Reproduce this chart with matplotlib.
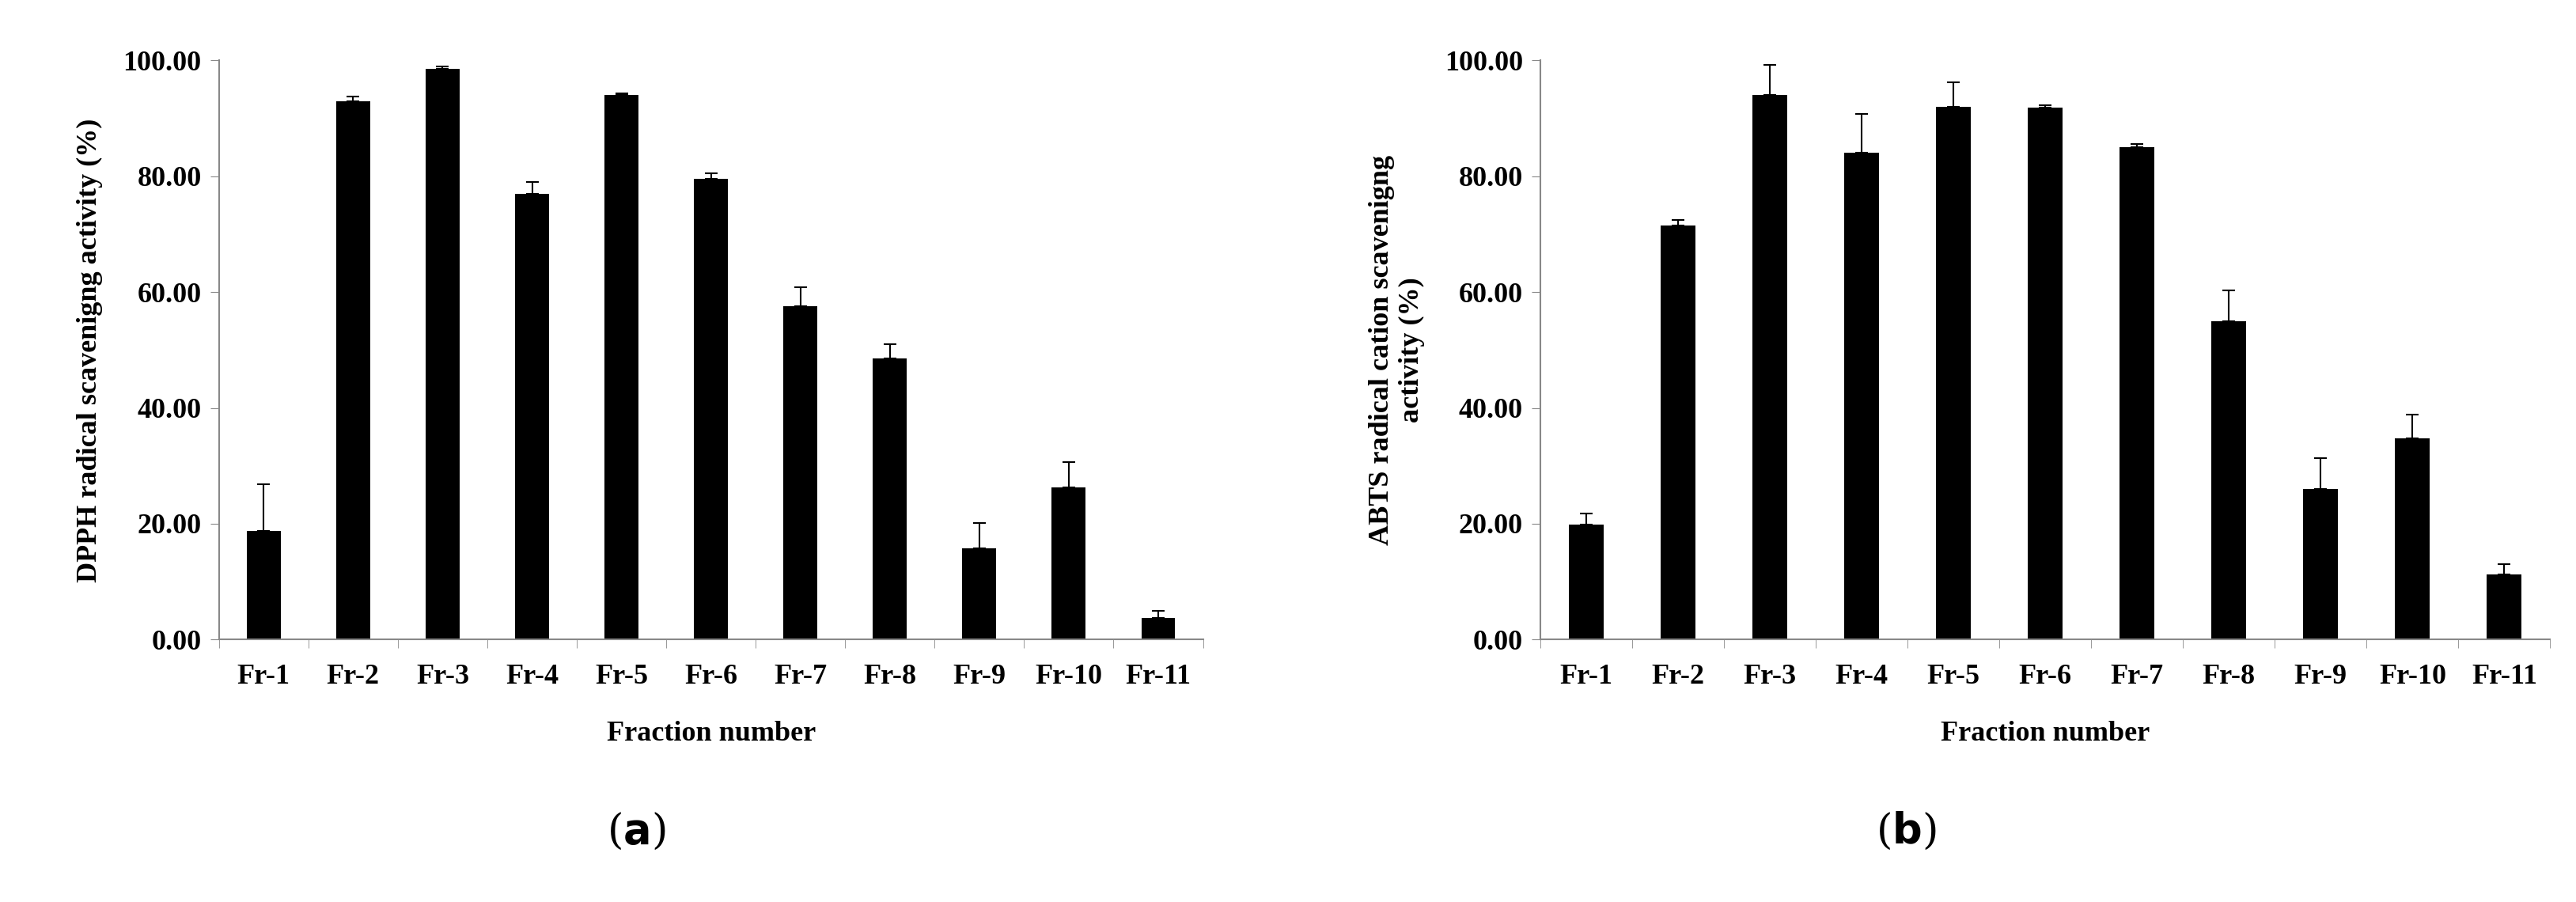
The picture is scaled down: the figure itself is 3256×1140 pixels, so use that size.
import matplotlib
matplotlib.use("Agg")
import matplotlib.pyplot as plt
import numpy as np

categories = ["Fr-1","Fr-2","Fr-3","Fr-4","Fr-5","Fr-6","Fr-7","Fr-8","Fr-9","Fr-10","Fr-11"]
dpph = [18.8, 93.0, 98.5, 77.0, 94.0, 79.5, 57.5, 48.5, 15.8, 26.3, 3.7]
dpph_err = [8.0, 0.8, 0.4, 2.0, 0.3, 1.0, 3.3, 2.5, 4.3, 4.3, 1.3]
abts = [19.8, 71.5, 94.0, 84.0, 92.0, 91.8, 85.0, 55.0, 26.0, 34.7, 11.2]
abts_err = [2.0, 1.0, 5.2, 6.8, 4.2, 0.4, 0.6, 5.3, 5.3, 4.2, 1.8]
yticks = [0, 20, 40, 60, 80, 100]

plt.rcParams['font.family'] = ['Liberation Serif', 'DejaVu Serif']
fig = plt.figure(figsize=(32.56, 11.4), dpi=100)

def panel(rect, vals, errs, ylabel, tag, tagx):
    ax = fig.add_axes(rect)
    x = np.arange(len(categories))
    ax.bar(x, vals, width=0.38, color='black', zorder=2)
    ax.errorbar(x, vals, yerr=[np.zeros(len(errs)), errs], fmt='none', ecolor='black',
                elinewidth=1.5, capsize=6, capthick=1.5, zorder=1)
    ax.set_xlim(-0.5, len(categories) - 0.5)
    ax.set_ylim(0, 100)
    ax.set_yticks(yticks)
    ax.set_yticklabels([f"{v:.2f}" for v in yticks], fontsize=26, fontweight='bold')
    ax.set_xticks(x)
    ax.set_xticklabels(categories, fontsize=26, fontweight='bold')
    ax.set_xticks(np.arange(-0.5, len(categories), 1), minor=True)
    ax.tick_params(axis='x', which='major', length=0, pad=22)
    ax.tick_params(axis='x', which='minor', length=8, color='#888888')
    ax.tick_params(axis='y', length=8, color='#888888', pad=8)
    for s in ['top', 'right']:
        ax.spines[s].set_visible(False)
    for s in ['left', 'bottom']:
        ax.spines[s].set_color('#888888')
        ax.spines[s].set_linewidth(1.5)
    ax.set_xlabel("Fraction number", fontsize=26, fontweight='bold', labelpad=28)
    ax.set_ylabel(ylabel, fontsize=26, fontweight='bold', labelpad=18)
    fig.text(tagx, 0.055, tag, fontsize=38, ha='center', va='bottom',
             family=['DejaVu Serif'])
    return ax

panel([0.085, 0.291, 0.382, 0.642], dpph, dpph_err,
      "DPPH radical scavenigng activity (%)", r"($\mathbf{a}$)", 0.247)
panel([0.598, 0.291, 0.392, 0.642], abts, abts_err,
      "ABTS radical cation scavenigng\nactivity (%)", r"($\mathbf{b}$)", 0.74)

fig.savefig("out.png", dpi=100)
